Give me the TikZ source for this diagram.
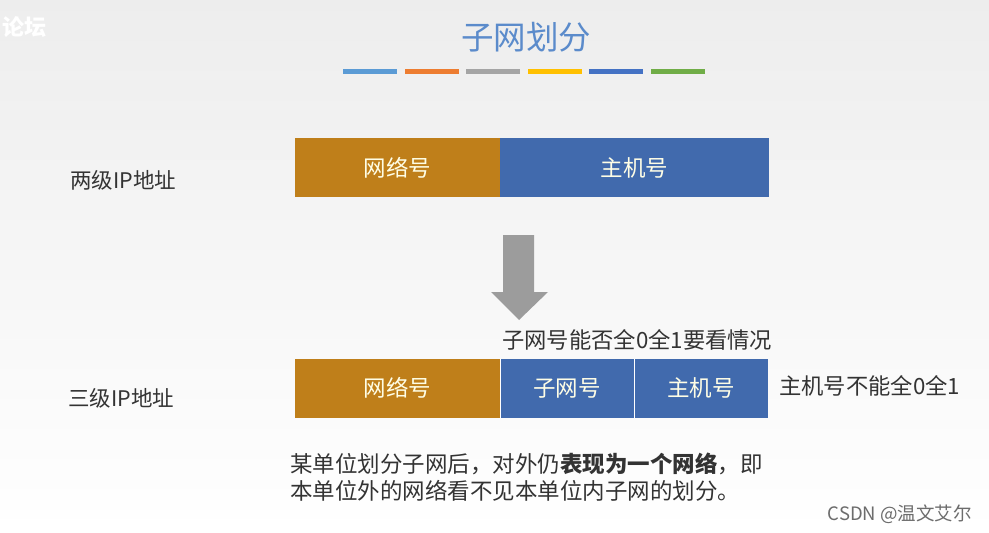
\documentclass[tikz,border=0pt]{standalone}
\usepackage{fontspec}
\setmainfont{Noto Sans CJK SC}
\usepackage{tikz}

\definecolor{netorange}{HTML}{BF7F1A}
\definecolor{hostblue}{HTML}{416AAD}
\definecolor{titleblue}{HTML}{5B8BCB}
\definecolor{textgray}{HTML}{333333}
\definecolor{arrowgray}{HTML}{9C9C9C}
\definecolor{barA}{HTML}{5B9BD5}
\definecolor{barB}{HTML}{ED7D31}
\definecolor{barC}{HTML}{A5A5A5}
\definecolor{barD}{HTML}{FFC000}
\definecolor{barE}{HTML}{4472C4}
\definecolor{barF}{HTML}{70AD47}

\tikzset{
  fieldbox/.style={inner sep=0pt, outer sep=0pt, minimum height=59pt,
    text=white!90!yellow, font=\fontsize{22.5}{26}\selectfont},
  rowlabel/.style={anchor=west, inner sep=0pt, text=textgray,
    font=\fontsize{21.5}{25}\selectfont},
  note/.style={anchor=west, inner sep=0pt, text=textgray,
    font=\fontsize{22.3}{26}\selectfont}
}

\begin{document}
\begin{tikzpicture}[x=1pt,y=-1pt]
  \useasboundingbox (0,0) rectangle (989,533);
  \shade[top color=gray!14, bottom color=white] (0,0) rectangle (989,533);
  \node[anchor=west, inner sep=0pt, text=white, font=\bfseries\fontsize{22}{26}\selectfont] (mark) at (2,27) {论坛};

  \node[text=titleblue, font=\fontsize{32.5}{38}\selectfont, inner sep=0pt] (title) at (526,37) {子网划分};
  \foreach \c [count=\i] in {barA,barB,barC,barD,barE,barF}
    \fill[\c] ({343+(\i-1)*61.5},68.5) rectangle ++(54,5.5);

  % two-level address
  \node[rowlabel] (lab2) at (70,180) {两级IP地址};
  \node[fieldbox, fill=netorange, minimum width=205pt] (net2) at (397.5,167.5) {网络号};
  \node[fieldbox, fill=hostblue, minimum width=269pt, anchor=west] (host2) at (net2.east) {主机号};

  \fill[arrowgray] (503,235) -- (534,235) -- (534,292) -- (548,292) -- (519,320)
    -- (491,292) -- (503,292) -- cycle;

  % three-level address
  \node[note] (subnote) at (502,340) {子网号能否全0全1要看情况};
  \node[rowlabel] (lab3) at (68,398) {三级IP地址};
  \node[fieldbox, fill=netorange, minimum width=205pt] (net3) at (397.5,388) {网络号};
  \node[fieldbox, fill=hostblue, minimum width=134pt, anchor=west] (sub3) at (net3.east) {子网号};
  \node[fieldbox, fill=hostblue, minimum width=134pt, anchor=west] (host3) at (sub3.east) {主机号};
  \draw[white, thin] (net3.north east) -- (net3.south east);
  \draw[white, thin] (sub3.north east) -- (sub3.south east);
  \node[note] (hostnote) at (779,386) {主机号不能全0全1};

  \node[note, font=\fontsize{22.5}{27}\selectfont, align=left, anchor=north west] (remark) at (290,453)
    {某单位划分子网后，对外仍\textbf{表现为一个网络}，即\\本单位外的网络看不见本单位内子网的划分。};

  \node[anchor=east, inner sep=0pt, text=gray!85!black, font=\fontsize{18.5}{22}\selectfont] (credit) at (972,514) {CSDN @温文艾尔};
\end{tikzpicture}
\end{document}
